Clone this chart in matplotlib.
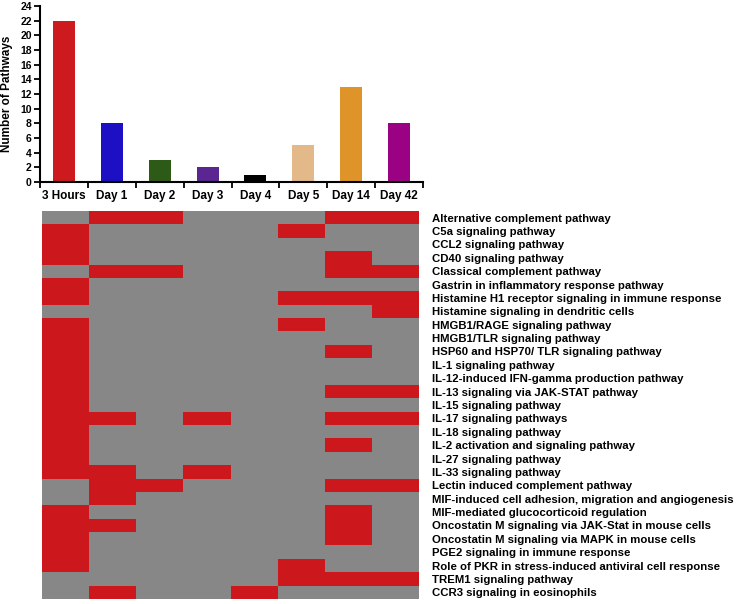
import numpy as np
import matplotlib.pyplot as plt
from matplotlib.colors import ListedColormap

plt.rcParams['font.family'] = ['Liberation Sans', 'DejaVu Sans']

timepoints = ['3 Hours', 'Day 1', 'Day 2', 'Day 3', 'Day 4', 'Day 5', 'Day 14', 'Day 42']
pathway_counts = [22, 8, 3, 2, 1, 5, 13, 8]
bar_colors = ['#cc1a1f', '#1c0fc4', '#2d5a17', '#5b2592', '#000000',
              '#e3b98a', '#de9428', '#9a0283']

pathways = [
    'Alternative complement pathway',
    'C5a signaling pathway',
    'CCL2 signaling pathway',
    'CD40 signaling pathway',
    'Classical complement pathway',
    'Gastrin in inflammatory response pathway',
    'Histamine H1 receptor signaling in immune response',
    'Histamine signaling in dendritic cells',
    'HMGB1/RAGE signaling pathway',
    'HMGB1/TLR signaling pathway',
    'HSP60 and HSP70/ TLR signaling pathway',
    'IL-1 signaling pathway',
    'IL-12-induced IFN-gamma production pathway',
    'IL-13 signaling via JAK-STAT pathway',
    'IL-15 signaling pathway',
    'IL-17 signaling pathways',
    'IL-18 signaling pathway',
    'IL-2 activation and signaling pathway',
    'IL-27 signaling pathway',
    'IL-33 signaling pathway',
    'Lectin induced complement pathway',
    'MIF-induced cell adhesion, migration and angiogenesis',
    'MIF-mediated glucocorticoid regulation',
    'Oncostatin M signaling via JAK-Stat in mouse cells',
    'Oncostatin M signaling via MAPK in mouse cells',
    'PGE2 signaling in immune response',
    'Role of PKR in stress-induced antiviral cell response',
    'TREM1 signaling pathway',
    'CCR3 signaling in eosinophils',
]

# 1 = pathway enriched at that time point (3H, D1, D2, D3, D4, D5, D14, D42)
enriched = [
    [0, 1, 1, 0, 0, 0, 1, 1],
    [1, 0, 0, 0, 0, 1, 0, 0],
    [1, 0, 0, 0, 0, 0, 0, 0],
    [1, 0, 0, 0, 0, 0, 1, 0],
    [0, 1, 1, 0, 0, 0, 1, 1],
    [1, 0, 0, 0, 0, 0, 0, 0],
    [1, 0, 0, 0, 0, 1, 1, 1],
    [0, 0, 0, 0, 0, 0, 0, 1],
    [1, 0, 0, 0, 0, 1, 0, 0],
    [1, 0, 0, 0, 0, 0, 0, 0],
    [1, 0, 0, 0, 0, 0, 1, 0],
    [1, 0, 0, 0, 0, 0, 0, 0],
    [1, 0, 0, 0, 0, 0, 0, 0],
    [1, 0, 0, 0, 0, 0, 1, 1],
    [1, 0, 0, 0, 0, 0, 0, 0],
    [1, 1, 0, 1, 0, 0, 1, 1],
    [1, 0, 0, 0, 0, 0, 0, 0],
    [1, 0, 0, 0, 0, 0, 1, 0],
    [1, 0, 0, 0, 0, 0, 0, 0],
    [1, 1, 0, 1, 0, 0, 0, 0],
    [0, 1, 1, 0, 0, 0, 1, 1],
    [0, 1, 0, 0, 0, 0, 0, 0],
    [1, 0, 0, 0, 0, 0, 1, 0],
    [1, 1, 0, 0, 0, 0, 1, 0],
    [1, 0, 0, 0, 0, 0, 1, 0],
    [1, 0, 0, 0, 0, 0, 0, 0],
    [1, 0, 0, 0, 0, 1, 0, 0],
    [0, 0, 0, 0, 0, 1, 1, 1],
    [0, 1, 0, 0, 1, 0, 0, 0],
]

W, H = 746, 604
fig = plt.figure(figsize=(W / 100, H / 100), dpi=100)

# --- bar chart on top ---
ax = fig.add_axes([40 / W, (H - 182) / H, (423 - 40) / W, (182 - 6) / H])
x = np.arange(len(timepoints))
ax.bar(x, pathway_counts, width=0.46, color=bar_colors)
ax.set_xlim(-0.5, len(timepoints) - 0.5)
ax.set_ylim(0, 24)
ax.set_yticks(range(0, 25, 2))
ax.set_xticks(x)
ax.set_xticklabels(timepoints, fontsize=8.5, fontweight='bold')
ax.set_xticks(np.arange(-0.5, len(timepoints)), minor=True)
ax.tick_params(axis='x', which='major', length=0, pad=6)
ax.tick_params(axis='x', which='minor', length=4, width=1.3, direction='out')
ax.tick_params(axis='y', length=4, width=1.3, direction='out', labelsize=7.5, pad=2)
for lbl in ax.get_yticklabels():
    lbl.set_fontweight('bold')
ax.set_ylabel('Number of Pathways', fontsize=8.5, fontweight='bold', labelpad=5)
ax.spines['top'].set_visible(False)
ax.spines['right'].set_visible(False)
ax.spines['left'].set_linewidth(1.5)
ax.spines['bottom'].set_linewidth(1.5)

# --- heatmap below ---
hx = fig.add_axes([42 / W, (H - 599) / H, (419 - 42) / W, (599 - 211) / H])
cmap = ListedColormap(['#878787', '#cc171c'])
hx.pcolormesh(np.array(enriched), cmap=cmap, vmin=0, vmax=1)
hx.set_xlim(0, len(timepoints))
hx.set_ylim(len(pathways), 0)
hx.set_xticks([])
hx.yaxis.tick_right()
hx.set_yticks(np.arange(len(pathways)) + 0.5)
hx.set_yticklabels(pathways, fontsize=8.2, fontweight='bold')
hx.tick_params(axis='y', length=0, pad=9.5)
for s in hx.spines.values():
    s.set_visible(False)

fig.savefig('out.png', dpi=100)
